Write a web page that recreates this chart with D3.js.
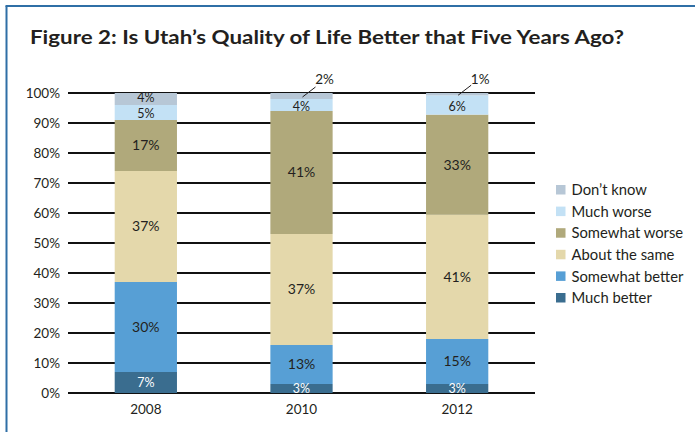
<!DOCTYPE html>
<html>
<head>
<meta charset="utf-8">
<script src="https://cdn.jsdelivr.net/npm/d3@7"></script>
<style>
  html, body { margin: 0; padding: 0; background: #fff; }
  svg { display: block; }
  text { font-family: Lato, "Open Sans", sans-serif; fill: #231f20; }
</style>
</head>
<body>
<svg id="chart" width="695" height="432"></svg>
<script>
const years = ["2008", "2010", "2012"];
const seriesNames = ["Much better", "Somewhat better", "About the same", "Somewhat worse", "Much worse", "Don\u2019t know"];
const muchBetter     = [7, 3, 3];
const somewhatBetter = [30, 13, 15];
const aboutSame      = [37, 37, 41.4];
const somewhatWorse  = [17, 41, 33.4];
const muchWorse      = [5, 4, 6.4];
const dontKnow       = [4, 2, 0.8];
const yTicks = [0, 10, 20, 30, 40, 50, 60, 70, 80, 90, 100];
const colors = ["#3a6d8f", "#579fd5", "#e4d8ab", "#b0a97b", "#c3e1f5", "#b7c7d6"];
const titleText = "Figure 2: Is Utah\u2019s Quality of Life Better that Five Years Ago?";

const seriesValues = [muchBetter, somewhatBetter, aboutSame, somewhatWorse, muchWorse, dontKnow];
const table = years.map((y, i) => {
  const row = { year: y };
  seriesNames.forEach((s, k) => row[s] = seriesValues[k][i]);
  return row;
});

const svg = d3.select("#chart");

// frame
svg.append("line").attr("x1", 6.5).attr("x2", 6.5).attr("y1", 6).attr("y2", 432)
  .attr("stroke", "#2f6fa6").attr("stroke-width", 2);
svg.append("line").attr("x1", 5.5).attr("x2", 695).attr("y1", 6).attr("y2", 6)
  .attr("stroke", "#2f6fa6").attr("stroke-width", 2);

// title
svg.append("text").attr("x", 30).attr("y", 44)
  .attr("font-weight", "bold").attr("font-size", 19.5)
  .attr("textLength", 594).attr("lengthAdjust", "spacingAndGlyphs")
  .text(titleText);

const x = d3.scaleBand().domain(years).range([68, 535]).paddingInner(0.6).paddingOuter(0.3);
const y = d3.scaleLinear().domain([0, 100]).range([393, 93]);

// gridlines
svg.append("g").selectAll("line").data(yTicks).join("line")
  .attr("x1", 68).attr("x2", 535)
  .attr("y1", d => y(d)).attr("y2", d => y(d))
  .attr("stroke", "#111").attr("stroke-width", 1.8);

// y labels
svg.append("g").selectAll("text").data(yTicks).join("text")
  .attr("x", 60).attr("y", d => y(d)).attr("dy", "0.35em")
  .attr("text-anchor", "end").attr("font-size", 13.5)
  .text(d => d + "%");

// x labels
svg.append("g").selectAll("text").data(years).join("text")
  .attr("x", d => x(d) + x.bandwidth() / 2).attr("y", 414)
  .attr("text-anchor", "middle").attr("font-size", 13.5)
  .text(d => d);

const stack = d3.stack().keys(seriesNames)(table);

const layers = svg.append("g").selectAll("g").data(stack).join("g")
  .attr("fill", (d, i) => colors[i]);
layers.selectAll("rect").data(d => d).join("rect")
  .attr("x", d => x(d.data.year))
  .attr("width", x.bandwidth())
  .attr("y", d => y(d[1]))
  .attr("height", d => y(d[0]) - y(d[1]));

// segment labels
const labelG = svg.append("g");
stack.forEach((layer, k) => {
  layer.forEach((d, i) => {
    const v = d[1] - d[0];
    const txt = Math.round(v) + "%";
    const cx = x(d.data.year) + x.bandwidth() / 2;
    if (v < 3 && k === seriesNames.length - 1) {
      // outside label with leader line
      const y0 = y((d[0] + d[1]) / 2);
      labelG.append("line")
        .attr("x1", cx + 1).attr("y1", y0 + 1)
        .attr("x2", cx + 14).attr("y2", y0 - 9)
        .attr("stroke", "#231f20").attr("stroke-width", 1);
      labelG.append("text").attr("x", cx + 23).attr("y", 79).attr("dy", "0.35em")
        .attr("text-anchor", "middle").attr("font-size", 13.5).text(txt);
    } else {
      const small = v < 8;
      let cy = y((d[0] + d[1]) / 2);
      if (small && k === seriesNames.length - 1) cy -= 1;
      else if (small && k === seriesNames.length - 2) cy += 1.5;
      labelG.append("text").attr("x", cx).attr("y", cy).attr("dy", "0.35em")
        .attr("text-anchor", "middle").attr("font-size", small ? 12.5 : 14)
        .style("fill", k === 0 ? "#ffffff" : "#231f20")
        .text(txt);
    }
  });
});

// legend
const legendOrder = seriesNames.map((s, i) => ({ s, c: colors[i] })).reverse();
const lg = svg.append("g").selectAll("g").data(legendOrder).join("g")
  .attr("transform", (d, i) => `translate(556, ${190 + i * 21.6})`);
lg.append("rect").attr("x", 0).attr("y", -5).attr("width", 9.5).attr("height", 9.5)
  .attr("fill", d => d.c);
lg.append("text").attr("x", 15.5).attr("y", 0).attr("dy", "0.35em")
  .attr("font-size", 14.8).text(d => d.s);
</script>
</body>
</html>
